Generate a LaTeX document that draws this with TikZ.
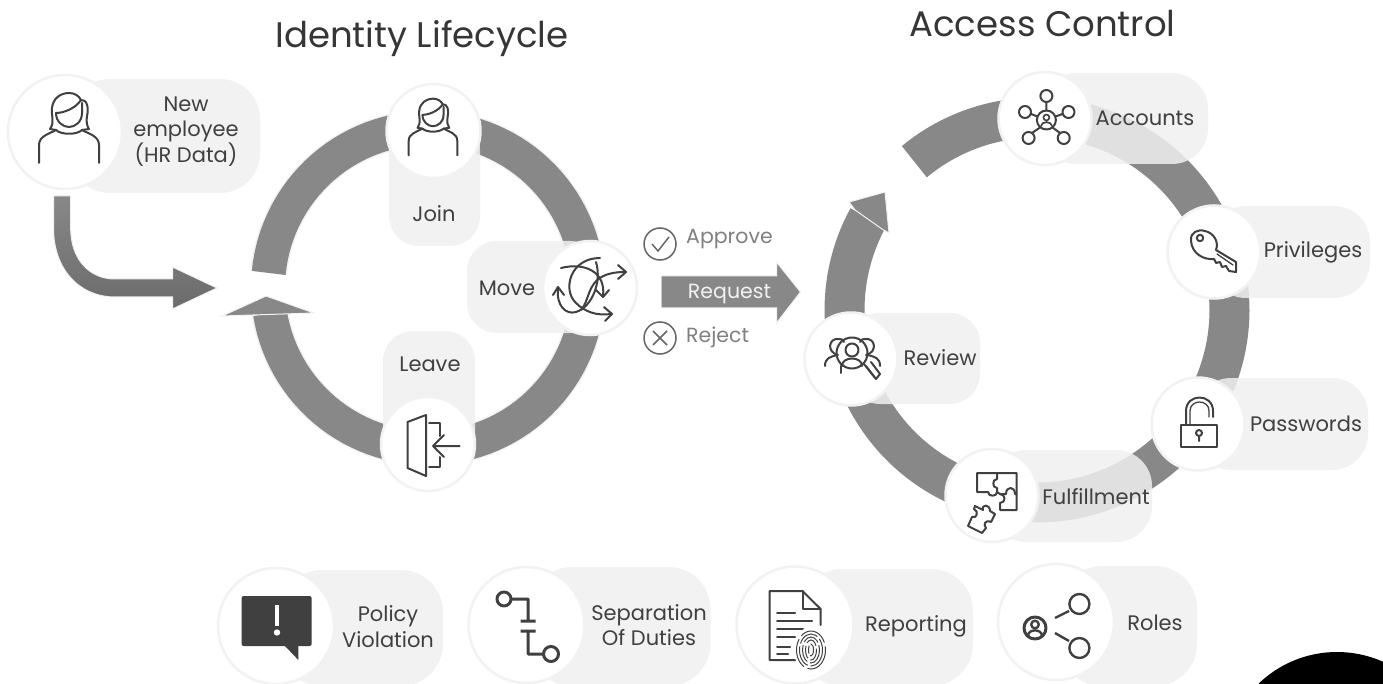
\documentclass[tikz,border=0pt]{standalone}
\usepackage{fontspec}
\setmainfont{Poppins}
\definecolor{ink}{HTML}{404040}
\definecolor{ringc}{HTML}{888888}
\definecolor{halo}{HTML}{F2F2F2}
\definecolor{pillc}{HTML}{F0F0F0}
\definecolor{soft}{HTML}{808080}
\tikzset{
  ringline/.style={draw=ringc,line width=#1,line cap=butt},
  haloline/.style={draw=halo,line width=#1,line cap=butt},
  headfill/.style={fill=ringc,draw=halo,line width=1pt,line join=miter},
  pill/.style={rectangle,fill=pillc,fill opacity=.85,inner sep=0pt,outer sep=0pt},
  disc/.style={circle,fill=white,draw=halo,line width=2.5pt,inner sep=0pt,outer sep=0pt,minimum size=#1},
  label/.style={text=ink,font=\fontsize{21}{25.5}\selectfont,align=center,inner sep=0pt},
  softlabel/.style={text=soft,font=\fontsize{20.5}{25}\selectfont,inner sep=0pt,anchor=west},
  titletext/.style={text=ink!85!black,font=\fontsize{35.5}{40}\selectfont,inner sep=0pt},
  icon/.style={draw=ink,line width=2pt,line cap=round,line join=round},
  woman/.pic={
    \draw[icon] (-30,35) -- (-30,17) .. controls (-30,8) and (-20,6) .. (-13,2)
      .. controls (-8,7) and (8,7) .. (13,2) .. controls (20,6) and (30,8) .. (30,17) -- (30,35);
    \draw[icon] (-13,2) -- (-19,1) .. controls (-14,-6) and (-18,-12) .. (-17,-20)
      .. controls (-16,-30) and (-8,-35) .. (0,-35) .. controls (6,-35) and (10,-32) .. (12,-28)
      .. controls (18,-29) and (20,-20) .. (18,-12) .. controls (17,-6) and (18,-2) .. (20,1) -- (13,2);
    \draw[icon] (-13,-15) .. controls (-13,-6) and (-6,-1) .. (0,-1) .. controls (6,-1) and (13,-6) .. (13,-15) -- (13,-25);
    \draw[icon] (-13,-15) .. controls (-6,-15) and (6,-19) .. (12,-28);
  },
}
\begin{document}
\begin{tikzpicture}[x=1pt,y=-1pt]
\clip (0,0) rectangle (1383,684);
\fill[white] (0,0) rectangle (1383,684);
% corner blob
\fill[black] (1337,765) circle (113);
% titles
\node[titletext] (titleA) at (422,39) {Identity Lifecycle};
\node[titletext] (titleB) at (1042.5,24) {Access Control};
% left ring
\draw[haloline=37pt] plot[domain=171:-174.6,samples=120] ({428+160*cos(\x)},{288+160*sin(\x)});
\draw[ringline=34pt] plot[domain=171:-174.6,samples=120] ({428+160*cos(\x)},{288+160*sin(\x)});
\filldraw[headfill] (222,316) -- (266,296) -- (314,313) -- cycle;
% right ring
\draw[ringline=40pt] plot[domain=-129.6:208.7,samples=160] ({1037+192.5*cos(\x)},{310+192.5*sin(\x)});
\filldraw[headfill] (849,202) -- (885,192) -- (889,233) -- (882,229) -- (855,210) -- cycle;
% HR arrow
\path[top color=ringc,bottom color=black!58,draw=halo,line width=1pt]
  (53.5,196) -- (53.5,228) .. controls (53.5,270) and (80,297) .. (115,297) -- (172.5,297) -- (172.5,309)
  -- (217,288) -- (172.5,267) -- (172.5,279) -- (115,279) .. controls (90,279) and (70.7,260) .. (70.7,228) -- (70.7,196) -- cycle;
% request arrow
\filldraw[fill=ringc,draw=halo,line width=1pt] (661,276) -- (776.5,276) -- (776.5,262) -- (800.5,292) -- (776.5,323) -- (776.5,308) -- (661,308) -- cycle;
% pills
\node[pill,rounded corners=40pt,minimum width=190pt,minimum height=114pt] (pNew) at (165,136) {};
\node[pill,rounded corners=30pt,minimum width=91pt,minimum height=126pt] (pJoin) at (434.5,183) {};
\node[pill,rounded corners=30pt,minimum width=133pt,minimum height=92pt] (pMove) at (533.5,287) {};
\node[pill,rounded corners=30pt,minimum width=92pt,minimum height=130pt] (pLeave) at (429,396) {};
\node[pill,rounded corners=36pt,minimum width=168pt,minimum height=91pt] (pAcc) at (1124,118.5) {};
\node[pill,rounded corners=36pt,minimum width=160pt,minimum height=92pt] (pPriv) at (1290,252) {};
\node[pill,rounded corners=36pt,minimum width=173pt,minimum height=92pt] (pPass) at (1281.5,424) {};
\node[pill,rounded corners=36pt,minimum width=162pt,minimum height=92pt] (pFul) at (1071,496) {};
\node[pill,rounded corners=30pt,minimum width=130pt,minimum height=91pt] (pRev) at (915,358.5) {};
\node[pill,rounded corners=42pt,minimum width=163pt,minimum height=116pt] (pPol) at (361.5,628) {};
\node[pill,rounded corners=42pt,minimum width=180.5pt,minimum height=119pt] (pSep) at (620.25,626.5) {};
\node[pill,rounded corners=42pt,minimum width=173pt,minimum height=117pt] (pRep) at (886.5,627.5) {};
\node[pill,rounded corners=42pt,minimum width=137pt,minimum height=120pt] (pRol) at (1128.5,626) {};
% discs
\node[disc=114pt] (dNew) at (65,132) {};
\node[disc=94pt] (dJoin) at (433.5,131) {};
\node[disc=94pt] (dMove) at (590,288) {};
\node[disc=94pt] (dLeave) at (428,444) {};
\node[disc=93pt] (dAcc) at (1045,118.5) {};
\node[disc=93pt] (dPriv) at (1214,252) {};
\node[disc=93pt] (dPass) at (1198,424) {};
\node[disc=93pt] (dFul) at (992,495.5) {};
\node[disc=93pt] (dRev) at (851,359) {};
\node[disc=116pt] (dPol) at (276,626) {};
\node[disc=116pt] (dSep) at (526.5,625) {};
\node[disc=117pt] (dRep) at (795,625) {};
\node[disc=116pt] (dRol) at (1056,622) {};
% labels
\node[label] (tNew) at (186,131.5) {New\\employee\\(HR Data)};
\node[label] (tJoin) at (434,214) {Join};
\node[label] (tMove) at (507,288) {Move};
\node[label] (tLeave) at (430,364) {Leave};
\node[label] (tAcc) at (1145,118.5) {Accounts};
\node[label] (tPriv) at (1313,252) {Privileges};
\node[label] (tPass) at (1306,424) {Passwords};
\node[label] (tFul) at (1096,496.5) {Fulfillment};
\node[label] (tRev) at (940,358) {Review};
\node[label] (tPol) at (388,626.5) {Policy\\Violation};
\node[label] (tSep) at (649,625) {Separation\\Of Duties};
\node[label] (tRep) at (916,626) {Reporting};
\node[label] (tRol) at (1155,623) {Roles};
\node[text=halo,font=\fontsize{20.5}{25}\selectfont,inner sep=0pt] (tReq) at (729.5,294) {Request};
% approve / reject
\node[circle,draw=soft!80!black,line width=1.5pt,minimum size=32pt,inner sep=0pt] (cApp) at (660,244) {};
\draw[draw=soft!80!black,line width=1.5pt] (652,244) -- (658,251) -- (669,237);
\node[softlabel] (tApp) at (686,239) {Approve};
\node[circle,draw=soft!80!black,line width=1.5pt,minimum size=32pt,inner sep=0pt] (cRej) at (660,338) {};
\draw[draw=soft!80!black,line width=1.5pt] (653,331) -- (667,345) (667,331) -- (653,345);
\node[softlabel] (tRej) at (686,337) {Reject};
% woman icons
\pic at (69,128) {woman};
\pic[scale=.81] at (433,127) {woman};
% move icon
\draw[icon] (561,268) .. controls (585,262) and (606,272) .. (603,296);
\draw[icon] (596,290) -- (603,297) -- (609,290);
\draw[icon] (600,258) .. controls (570,258) and (562,290) .. (576,303) .. controls (585,312) and (597,316) .. (611,314);
\draw[icon] (604,307) -- (612,314) -- (605,321);
\draw[icon] (581,310) .. controls (592,298) and (585,272) .. (625,272);
\draw[icon] (618,265) -- (626,272) -- (618,279);
\draw[icon] (558,288) .. controls (556,306) and (566,315) .. (576,312) .. controls (592,307) and (602,282) .. (596,262);
\draw[icon] (553,295) -- (558,287) -- (564,295);
% leave icon
\draw[icon] (407.5,422) -- (426,415) -- (426,476) -- (407.5,468) -- cycle;
\draw[icon] (429,423) -- (440,423) -- (440,436);
\draw[icon] (440,457) -- (440,467) -- (429,467);
\draw[icon] (459.5,446) -- (433,446) (444,435) -- (433,446) -- (444,457);
% accounts icon
\draw[icon] (1046.4,120) circle (9.5);
\draw[icon] (1046.4,96) circle (6) (1025,112) circle (6) (1068.5,112) circle (6) (1028.6,138) circle (6) (1063.7,138) circle (6);
\draw[icon] (1046.4,102) -- (1046.4,110.5) (1031,114) -- (1037.5,116.5) (1062.5,114) -- (1055.5,116.5) (1032,133) -- (1040,127.5) (1060,133) -- (1052.5,127.5);
\draw[icon,line width=1.6pt] (1046.4,117.5) circle (3) (1041,126) .. controls (1041,121) and (1052,121) .. (1052,126);
% key icon
\draw[icon] (1216,250) -- (1236,262) -- (1236,272) -- (1229,271) -- (1226,266) -- (1222,267) -- (1220,262) -- (1216,263) -- (1214,259)
  .. controls (1204,260) and (1192,254) .. (1191,241) .. controls (1190,232) and (1198,229) .. (1205,231) .. controls (1214,233) and (1219,242) .. (1216,250) -- cycle;
\draw[icon] (1200,238) circle (3.2);
\draw[icon,line width=1.3pt] (1217,254) -- (1233,265);
% lock icon
\draw[icon] (1181,425) -- (1217,425) -- (1217,447) -- (1181,447) -- cycle;
\draw[icon] (1186,425) -- (1186,411) .. controls (1186,393) and (1213,393) .. (1213,411) -- (1213,417);
\draw[icon,line width=1.3pt] (1190,425) -- (1190,411) .. controls (1190,399) and (1209,399) .. (1209,411) -- (1209,417);
\draw[icon] (1199,433) circle (3) (1199,436) -- (1199,441);
% puzzle icon
\draw[icon] (977,473) -- (1016.5,473) -- (1016.5,510) -- (1000,510) -- (1000,503) .. controls (1006,503) and (1006,494) .. (1000,494) -- (997,492)
  .. controls (997,497) and (988,497) .. (988,492) -- (977,492) -- cycle;
\draw[icon] (997,473) -- (997,479) .. controls (992,479) and (992,488) .. (997,488) -- (997,492);
\draw[icon] (1000,494) -- (1006,494) .. controls (1006,486) and (1015,486) .. (1015,494) -- (1016.5,494);
\draw[icon] (975,506) -- (983,510) .. controls (981,504) and (990,504) .. (990,511) -- (995,514) -- (991,522) .. controls (985,519) and (983,525) .. (986,528) -- (982,533) -- (968,526) -- (972,517) .. controls (977,519) and (979,511) .. (974,509) -- cycle;
% review icon
\draw[icon] (852,353) circle (15.5);
\draw[icon] (852,350) circle (6.5);
\draw[icon] (842,366) .. controls (842,356) and (862,356) .. (862,366);
\draw[icon] (864,364) -- (875,378) (871,362) -- (880,374) -- (876,379) -- (866,366);
\draw[icon] (838,355) .. controls (826,352) and (829,338) .. (838,339) .. controls (841,338) and (843,340) .. (844,342);
\draw[icon] (866,355) .. controls (878,352) and (875,338) .. (866,339) .. controls (863,338) and (861,340) .. (860,342);
\draw[icon] (825,366) .. controls (825,358) and (830,357) .. (837,355);
\draw[icon] (880,366) .. controls (880,358) and (875,357) .. (868,355);
\draw[icon] (841,373) -- (841,366);
% policy icon
\fill[ink,rounded corners=2pt] (241.6,596) rectangle (311.6,646);
\fill[ink] (284,645) -- (298.4,645) -- (298.4,660) -- cycle;
\draw[white,line width=4pt] (277,605) -- (277,626);
\fill[white] (277,632.5) circle (3.2);
% separation icon
\draw[icon,line width=3pt,line cap=butt] (504,599) circle (7) (511,599) -- (528,599) -- (528,621) (520.5,621) -- (535.7,621);
\draw[icon,line width=3pt,line cap=butt] (551,654) circle (7.5) (543.5,654) -- (528,654) -- (528,631) (520.5,631) -- (535.7,631);
% reporting icon
\draw[icon] (800,660) -- (769.5,660) -- (769.5,591) -- (802.5,591) -- (820.6,609) -- (820.6,625);
\draw[icon] (802.5,591) -- (802.5,609) -- (820.6,609);
\draw[icon] (777,613) -- (795,613) (777,621) -- (812,621) (777,629) -- (803,629) (777,637) -- (795,637) (777,647) -- (790,647) (777,654) -- (788,654);
\fill[white] (811,650) ellipse (17 and 23);
\begin{scope}[line width=1pt,ink]
\draw[dash pattern=on 30pt off 4pt] (811,650) ellipse (14.5 and 19);
\draw[dash pattern=on 22pt off 3pt] (811,650) ellipse (11.5 and 16);
\draw[dash pattern=on 18pt off 3pt] (811,650) ellipse (8.5 and 13);
\draw[dash pattern=on 13pt off 3pt] (811,650) ellipse (5.5 and 10);
\draw[dash pattern=on 8pt off 2pt] (811,650) ellipse (2.5 and 6);
\end{scope}
% roles icon
\draw[icon,line width=3pt] (1035,628) circle (11);
\draw[icon,line width=2.4pt] (1035,624.5) circle (3.8);
\draw[icon,line width=2.4pt] (1028,636) .. controls (1028,628.5) and (1042,628.5) .. (1042,636);
\draw[icon,line width=2.4pt] (1079.4,604) circle (10) (1079.4,648) circle (10);
\draw[icon,line width=2.4pt,line cap=butt] (1055,618) -- (1069,611) (1055,633) -- (1069,641);
\end{tikzpicture}
\end{document}
